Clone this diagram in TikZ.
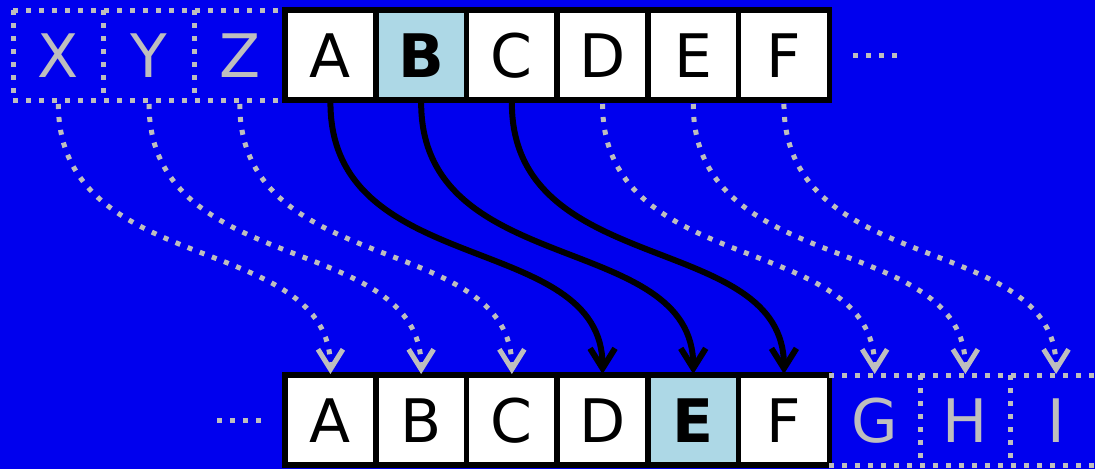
\documentclass[tikz,border=0pt]{standalone}
\usepackage{fontspec}
\setmainfont{DejaVu Sans}
\usetikzlibrary{positioning,arrows.meta}
\definecolor{fondo}{RGB}{0,0,238}
\definecolor{gris}{RGB}{190,190,190}
\definecolor{celeste}{RGB}{173,216,230}
\tikzset{
  cell/.style={draw=black, line width=5.5pt, fill=white, minimum width=90.7pt,
    minimum height=90pt, inner sep=0pt, outer sep=0pt, text height=44pt, text depth=0pt,
    font=\fontsize{60}{60}\selectfont},
  marked/.style={cell, fill=celeste, font=\fontsize{60}{60}\selectfont\bfseries},
  ghost/.style={text=gris, minimum width=90.7pt, minimum height=90pt, inner sep=0pt,
    outer sep=0pt, text height=44pt, text depth=0pt, font=\fontsize{60}{60}\selectfont},
  ghostline/.style={draw=gris, line width=5pt, dash pattern=on 5pt off 8pt},
  jump/.style={line width=6pt, shorten <=2.75pt, shorten >=1pt,
    -{Straight Barb[length=20pt,width=25pt]}},
  ghostjump/.style={ghostline, shorten <=4pt, shorten >=1pt,
    -{Straight Barb[length=20pt,width=25pt]}},
}
\begin{document}
\begin{tikzpicture}[x=1pt, y=-1pt]
  \useasboundingbox (0,0) rectangle (1095,469);
  \fill[fondo] (0,0) rectangle (1095,469);
  % Fila superior
  \node[ghost] (tX) at (58.35,55) {X};
  \node[ghost] (tY) [right=0pt of tX] {Y};
  \node[ghost] (tZ) [right=0pt of tY] {Z};
  \node[cell] (tA) [right=0pt of tZ] {A};
  \node[marked] (tB) [right=0pt of tA] {B};
  \node[cell] (tC) [right=0pt of tB] {C};
  \node[cell] (tD) [right=0pt of tC] {D};
  \node[cell] (tE) [right=0pt of tD] {E};
  \node[cell] (tF) [right=0pt of tE] {F};
  \draw[ghostline] (tX.north west) -- (tZ.north east);
  \draw[ghostline] (tX.south west) -- (tZ.south east);
  \draw[ghostline] (tX.north west) -- (tX.south west);
  \draw[ghostline] (tY.north west) -- (tY.south west);
  \draw[ghostline] (tZ.north west) -- (tZ.south west);
  \draw[ghostline] ([xshift=23.5pt]tF.east) -- ++(44,0);
  % Fila inferior
  \node[cell] (bA) [below=275pt of tA] {A};
  \node[cell] (bB) [right=0pt of bA] {B};
  \node[cell] (bC) [right=0pt of bB] {C};
  \node[cell] (bD) [right=0pt of bC] {D};
  \node[marked] (bE) [right=0pt of bD] {E};
  \node[cell] (bF) [right=0pt of bE] {F};
  \node[ghost] (bG) [right=0pt of bF] {G};
  \node[ghost] (bH) [right=0pt of bG] {H};
  \node[ghost] (bI) [right=0pt of bH] {I};
  \draw[ghostline] (bG.north west) -- (bI.north east);
  \draw[ghostline] (bG.south west) -- (bI.south east);
  \draw[ghostline] (bH.north west) -- (bH.south west);
  \draw[ghostline] (bI.north west) -- (bI.south west);
  \draw[ghostline] ([xshift=-68pt]bA.west) -- ++(44,0);
  % Desplazamientos
  \draw[ghostjump] (tX.south) .. controls +(0,180) and +(0,-145) .. (bA.north);
  \draw[ghostjump] (tY.south) .. controls +(0,180) and +(0,-145) .. (bB.north);
  \draw[ghostjump] (tZ.south) .. controls +(0,180) and +(0,-145) .. (bC.north);
  \draw[jump] (tA.south) .. controls +(0,180) and +(0,-145) .. (bD.north);
  \draw[jump] (tB.south) .. controls +(0,180) and +(0,-145) .. (bE.north);
  \draw[jump] (tC.south) .. controls +(0,180) and +(0,-145) .. (bF.north);
  \draw[ghostjump] (tD.south) .. controls +(0,180) and +(0,-145) .. (bG.north);
  \draw[ghostjump] (tE.south) .. controls +(0,180) and +(0,-145) .. (bH.north);
  \draw[ghostjump] (tF.south) .. controls +(0,180) and +(0,-145) .. (bI.north);
\end{tikzpicture}
\end{document}
